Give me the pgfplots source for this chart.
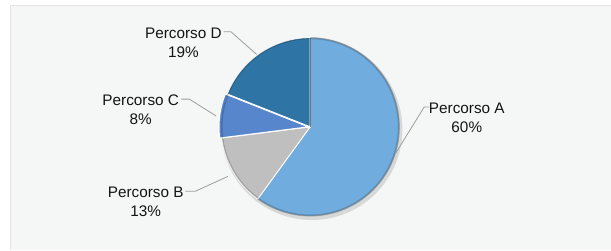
\documentclass[border=0pt]{standalone}
\usepackage{pgfplots}
\pgfplotsset{compat=1.18}
\usepackage{fontspec}
\setmainfont{Liberation Sans}
\definecolor{cA}{HTML}{70ADDE}
\definecolor{cB}{HTML}{BFBFBF}
\definecolor{cC}{HTML}{5886CC}
\definecolor{cD}{HTML}{2E75A6}
\definecolor{bgc}{HTML}{F5F6F6}
\definecolor{bdc}{HTML}{E4E4E4}
\definecolor{lead}{HTML}{9E9E9E}
% values (percent): A 60, B 13, C 8, D 19 ; start at 90 deg, clockwise
\def\cx{313}\def\cy{119}\def\rr{90}
\tikzset{lbl/.style={font=\fontsize{15.5}{19.5}\selectfont, align=center, text=black!92, inner sep=0pt}}
\begin{document}
\begin{tikzpicture}
\fill[white] (0,0) rectangle (611bp,247bp);
\begin{axis}[scale only axis, width=611bp, height=247bp,
  xmin=0, xmax=611, ymin=0, ymax=247, hide axis, clip=false]
\fill[bgc] (11,-5) rectangle (616,241);
\draw[bdc, line width=1bp] (11,-5) -- (11,241) -- (616,241);
% shadow
\addplot[fill=black, fill opacity=0.12, draw=none, domain=0:360, samples=120]
  ({\cx+1.5+(\rr+1.5)*cos(x)},{\cy-2.5+(\rr+1.5)*sin(x)});
% Percorso A 60%
\addplot[fill=cA, draw=black!35, line width=0.8bp, domain={90-3.6*60}:90, samples=120]
  ({\cx+\rr*cos(x)},{\cy+\rr*sin(x)}) -- (\cx,\cy) -- cycle;
% Percorso B 13%
\addplot[fill=cB, draw=white, line width=1bp, domain={90-3.6*73}:{90-3.6*60}, samples=40]
  ({\cx+\rr*cos(x)},{\cy+\rr*sin(x)}) -- (\cx,\cy) -- cycle;
% Percorso C 8%
\addplot[fill=cC, draw=white, line width=1bp, domain={90-3.6*81}:{90-3.6*73}, samples=30]
  ({\cx-2+\rr*cos(x)},{\cy+\rr*sin(x)}) -- (\cx-2,\cy) -- cycle;
% Percorso D 19%
\addplot[fill=cD, draw=white, line width=1bp, domain={90-3.6*100}:{90-3.6*81}, samples=50]
  ({\cx+\rr*cos(x)},{\cy+\rr*sin(x)}) -- (\cx,\cy) -- cycle;
\draw[black!55, line width=1bp] (\cx,\cy) -- (\cx,\cy+\rr);
% rim
\addplot[draw=black, draw opacity=0.18, line width=1.5bp, domain=0:360, samples=120]
  ({\cx+(\rr-0.8)*cos(x)},{\cy+(\rr-0.8)*sin(x)});
% leaders
\draw[lead, line width=0.8bp] (433,139) -- (428,139) -- (399,92);
\draw[lead, line width=0.8bp] (226,215) -- (233,215) -- (259,192);
\draw[lead, line width=0.8bp] (183,147) -- (191,147) -- (218,130);
\draw[lead, line width=0.8bp] (187,54) -- (197,54) -- (230,69);
% labels
\node[lbl] at (471,128) {Percorso A\\60\%};
\node[lbl] at (185,204) {Percorso D\\19\%};
\node[lbl] at (142,136) {Percorso C\\8\%};
\node[lbl] at (147,43) {Percorso B\\13\%};
\end{axis}
\end{tikzpicture}
\end{document}
